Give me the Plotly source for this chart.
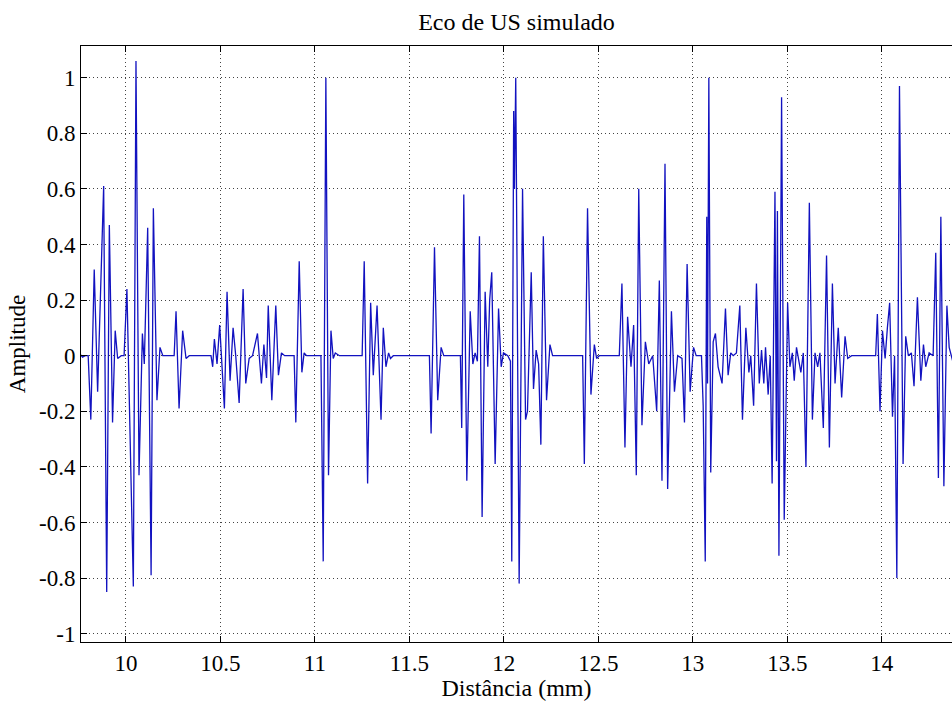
import plotly.graph_objects as go

# ---- data (distance in mm, amplitude) ----
distance_mm = [
    9.758, 9.770, 9.785, 9.800, 9.814, 9.832, 9.850, 9.882, 9.898, 9.912, 9.929, 9.943, 9.956, 9.975, 9.990,
    10.005, 10.039, 10.053, 10.069, 10.087, 10.097, 10.115, 10.133, 10.145, 10.164, 10.180, 10.195,
    10.255, 10.265, 10.281, 10.300, 10.318, 10.335,
    10.450, 10.459, 10.468, 10.482, 10.496, 10.521, 10.535, 10.551, 10.567, 10.581, 10.599, 10.620, 10.634,
    10.652, 10.670, 10.696, 10.717, 10.730, 10.744, 10.753, 10.772, 10.793, 10.807, 10.823, 10.840,
    10.890, 10.899, 10.917, 10.931, 10.943, 10.956,
    11.032, 11.044, 11.058, 11.072, 11.085, 11.097, 11.108, 11.130,
    11.250, 11.261, 11.279, 11.295, 11.309, 11.329, 11.350, 11.362, 11.376, 11.390, 11.400, 11.415,
    11.606, 11.615, 11.633, 11.650, 11.668, 11.682,
    11.770, 11.777, 11.788, 11.804, 11.822, 11.836, 11.848, 11.860, 11.871, 11.885, 11.901, 11.915, 11.925,
    11.936, 11.954, 11.972, 11.986, 11.998, 12.021, 12.035,
    12.042, 12.052, 12.056, 12.063, 12.081, 12.099, 12.115, 12.125, 12.145, 12.157, 12.171, 12.184,
    12.196, 12.209, 12.226, 12.244, 12.258,
    12.417, 12.426, 12.443, 12.461, 12.479, 12.491, 12.505,
    12.611, 12.625, 12.641, 12.655, 12.673, 12.687, 12.701, 12.714, 12.731, 12.749, 12.767, 12.788,
    12.809, 12.823, 12.837, 12.853, 12.867, 12.887, 12.903, 12.920, 12.943, 12.956, 12.970, 12.986,
    13.004, 13.018,
    13.046, 13.055, 13.066, 13.074, 13.078, 13.085, 13.095, 13.108, 13.120, 13.134, 13.155, 13.173, 13.187,
    13.201, 13.214, 13.231, 13.249, 13.263, 13.281, 13.297, 13.307, 13.322, 13.337, 13.352, 13.364,
    13.376, 13.385, 13.399, 13.410, 13.420, 13.435, 13.443, 13.448, 13.456, 13.470, 13.484, 13.502,
    13.514, 13.527, 13.537, 13.549, 13.572, 13.585, 13.599, 13.617, 13.633, 13.647, 13.661, 13.673,
    13.691, 13.708, 13.723, 13.739, 13.753, 13.770, 13.788, 13.806, 13.820, 13.841,
    13.968, 13.977, 13.991, 14.004, 14.018, 14.030, 14.042, 14.057, 14.068, 14.080, 14.094, 14.104,
    14.113, 14.127, 14.141, 14.157, 14.171, 14.189, 14.207, 14.221, 14.233, 14.251, 14.272, 14.286,
    14.300, 14.313, 14.329, 14.345, 14.357, 14.376,
]
amplitude = [
    0.005, -0.005, 0.0, 0.0, -0.23, 0.31, -0.13, 0.61, -0.85, 0.47, -0.24, 0.09, -0.01, 0.0, 0.0,
    0.24, -0.83, 1.06, -0.43, 0.08, -0.03, 0.46, -0.79, 0.53, -0.16, 0.03, 0.0,
    0.0, 0.16, -0.19, 0.09, -0.01, 0.0,
    0.0, -0.04, 0.06, -0.03, 0.11, -0.19, 0.23, -0.09, 0.10, 0.0, -0.17, 0.24, -0.10,
    -0.01, 0.0, 0.08, -0.10, 0.04, -0.08, 0.18, -0.16, 0.18, -0.07, 0.01, 0.0,
    0.0, -0.24, 0.34, -0.06, 0.01, 0.0,
    0.0, -0.74, 1.0, -0.43, 0.09, -0.01, 0.01, 0.0,
    0.0, 0.34, -0.46, 0.19, -0.07, 0.18, -0.23, 0.10, -0.04, 0.01, -0.01, 0.0,
    0.0, -0.28, 0.39, -0.16, 0.03, 0.0,
    0.0, -0.26, 0.58, -0.45, 0.16, -0.03, 0.01, -0.02, 0.43, -0.58, 0.23, -0.04, 0.20,
    0.30, -0.39, 0.17, -0.04, 0.01, 0.0, -0.02,
    -0.74, 0.88, 0.60, 1.0, -0.82, 0.60, -0.23, -0.20, 0.30, -0.12, 0.02, -0.03,
    -0.32, 0.43, -0.16, 0.04, 0.0,
    0.0, -0.39, 0.53, -0.14, 0.04, -0.01, 0.0,
    0.0, 0.26, -0.33, 0.14, -0.04, 0.11, -0.43, 0.60, -0.25, 0.05, -0.03, 0.0,
    -0.20, 0.27, -0.45, 0.69, -0.48, 0.16, -0.13, 0.0, -0.01, -0.24, 0.33, -0.13,
    0.03, 0.0,
    0.0, -0.18, -0.74, 0.50, -0.10, 1.0, -0.42, 0.05, 0.08, -0.04, -0.10, 0.17, -0.07,
    0.01, 0.0, 0.01, 0.18, -0.23, 0.10, -0.06, 0.0, -0.18, 0.26, -0.10, 0.02,
    -0.10, 0.03, -0.14, 0.0, -0.46, 0.59, -0.38, 0.52, -0.72, 0.93, -0.59, 0.19,
    -0.04, 0.01, -0.09, 0.03, -0.06, 0.01, -0.40, 0.55, -0.23, 0.01, -0.04, 0.01,
    -0.26, 0.36, -0.33, 0.26, -0.10, 0.10, -0.15, 0.07, -0.01, 0.0,
    0.0, 0.15, -0.20, 0.09, -0.01, 0.10, 0.19, -0.22, 0.0, -0.80, 0.97, 0.25,
    -0.39, 0.07, 0.0, 0.01, -0.11, 0.21, -0.09, 0.04, -0.04, 0.01, 0.0, 0.37,
    -0.44, 0.50, -0.47, 0.18, 0.03, -0.02,
]

x_ticks = [10, 10.5, 11, 11.5, 12, 12.5, 13, 13.5, 14]
x_tick_labels = ["10", "10.5", "11", "11.5", "12", "12.5", "13", "13.5", "14"]
y_ticks = [-1, -0.8, -0.6, -0.4, -0.2, 0, 0.2, 0.4, 0.6, 0.8, 1]
y_tick_labels = ["-1", "-0.8", "-0.6", "-0.4", "-0.2", "0", "0.2", "0.4", "0.6", "0.8", "1"]

FONT = "Liberation Serif, Times New Roman, serif"

fig = go.Figure(
    go.Scatter(
        x=distance_mm, y=amplitude, mode="lines",
        line=dict(color="#1212c0", width=1.3),
        hoverinfo="skip", showlegend=False,
    )
)

axis_common = dict(
    showline=True, linecolor="black", linewidth=1,
    ticks="inside", ticklen=6, tickcolor="black", tickwidth=1,
    showgrid=True, gridcolor="#444444", gridwidth=1, griddash="1px,3px",
    zeroline=False,
    tickfont=dict(family=FONT, size=23, color="black"),
)

fig.update_layout(
    width=952, height=701,
    margin=dict(l=81, r=0, t=46, b=59),
    paper_bgcolor="white", plot_bgcolor="white",
    title=dict(
        text="Eco de US simulado",
        font=dict(family=FONT, size=24, color="black"),
        x=0.5, xref="paper", xanchor="center",
        y=1 - 22 / 701, yref="container", yanchor="middle",
    ),
    xaxis=dict(
        range=[9.762, 14.372],
        tickvals=x_ticks, ticktext=x_tick_labels,
        mirror="ticks",
        title=dict(text="Distância (mm)", font=dict(family=FONT, size=24, color="black"), standoff=0),
        **axis_common,
    ),
    yaxis=dict(
        range=[-1.03, 1.114],
        tickvals=y_ticks, ticktext=y_tick_labels,
        mirror=False,
        title=dict(text="Amplitude", font=dict(family=FONT, size=23, color="black"), standoff=6),
        **axis_common,
    ),
)

fig.write_html("out.html")
